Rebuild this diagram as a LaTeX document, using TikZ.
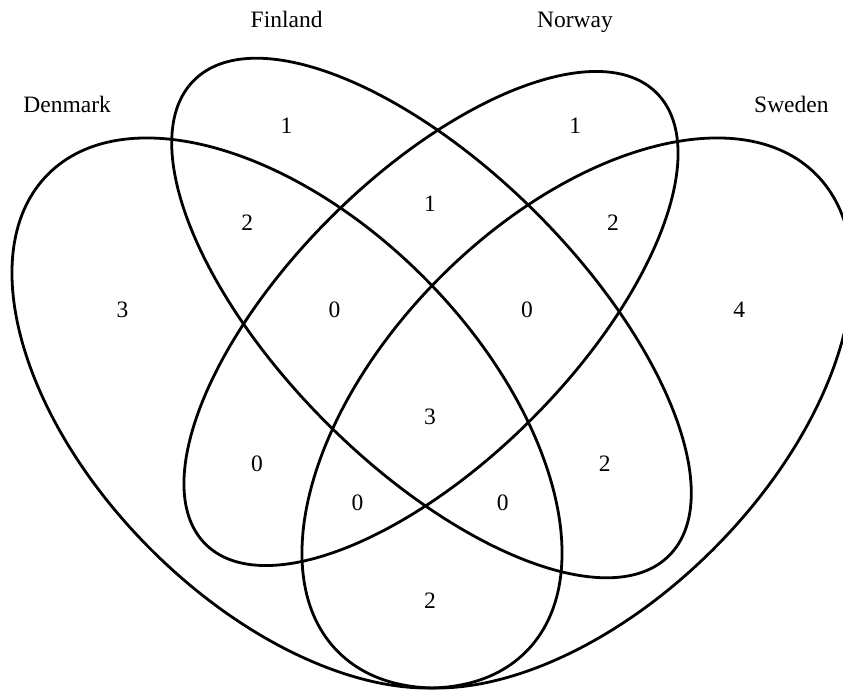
\documentclass[tikz,border=0pt]{standalone}
\usepackage{fontspec}
\setmainfont{Liberation Serif}
\begin{document}
\begin{tikzpicture}[x=1pt,y=1pt,
  setline/.style={line width=2.8pt, black},
  lab/.style={font=\fontsize{23.5}{28}\selectfont, anchor=base, inner sep=0pt}]
\useasboundingbox (0,0) rectangle (843,689);
\begin{scope}
\clip (0,0) rectangle (843,689);
% Finland
\draw[setline, rotate around={-45:(431.5,371)}] (431.5,371) ellipse [x radius=336pt, y radius=148.4pt];
% Norway
\draw[setline, rotate around={45:(431,370.5)}] (431,370.5) ellipse [x radius=319pt, y radius=142.3pt];
% Denmark
\draw[setline, rotate around={-45:(287,276)}] (287,276) ellipse [x radius=337.8pt, y radius=192.7pt];
% Sweden
\draw[setline, rotate around={45:(577,276)}] (577,276) ellipse [x radius=337.8pt, y radius=192.7pt];
\end{scope}
% set names
\node[lab] (lfin) at (286.6,661.3) {Finland};
\node[lab] (lnor) at (575,661) {Norway};
\node[lab] (lden) at (67.2,576.7) {Denmark};
\node[lab] (lswe) at (791.4,576.7) {Sweden};
% counts
\node[lab] (f)    at (286.6,555) {1};
\node[lab] (n)    at (575.3,555) {1};
\node[lab] (fn)   at (430,477.5) {1};
\node[lab] (df)   at (247.3,458.5) {2};
\node[lab] (ns)   at (612.9,458.5) {2};
\node[lab] (d)    at (122.6,371.5) {3};
\node[lab] (dfn)  at (334.4,371.5) {0};
\node[lab] (fns)  at (526.9,371.5) {0};
\node[lab] (s)    at (739.2,371.5) {4};
\node[lab] (all)  at (430,264.5) {3};
\node[lab] (dn)   at (257,217.5) {0};
\node[lab] (fs)   at (604.8,217.5) {2};
\node[lab] (dns)  at (357.5,178.5) {0};
\node[lab] (dfs)  at (502.7,178.5) {0};
\node[lab] (ds)   at (430,81) {2};
\end{tikzpicture}
\end{document}
